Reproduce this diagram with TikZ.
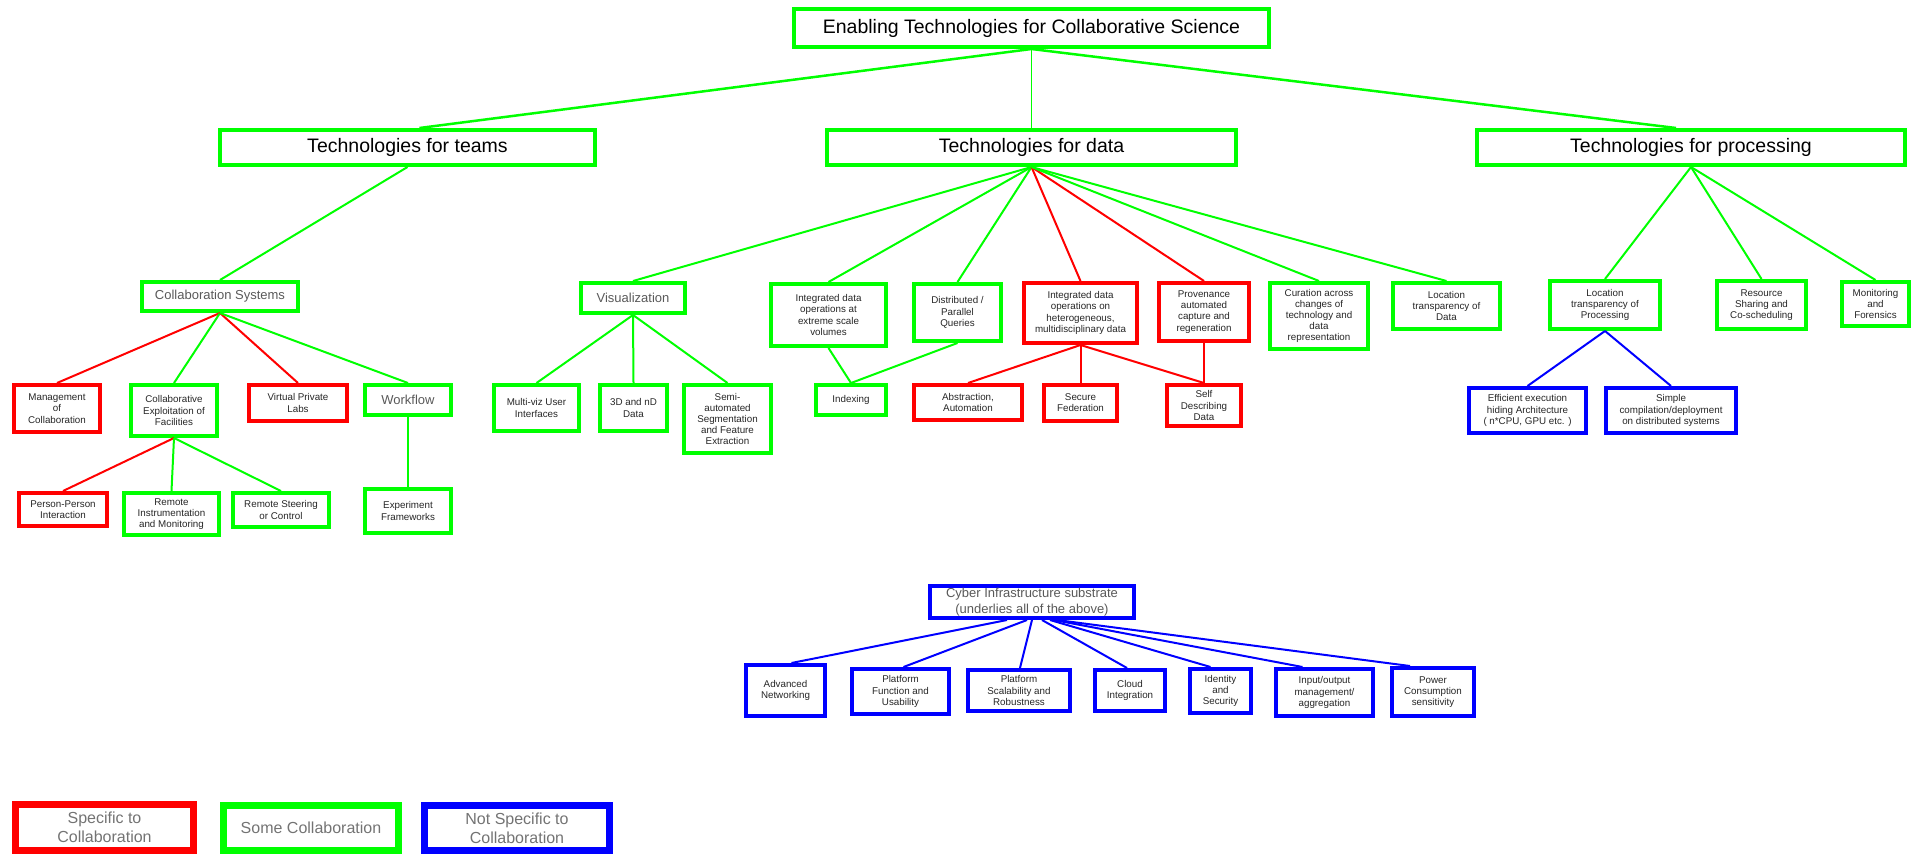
\documentclass[tikz,border=0pt]{standalone}
\usepackage{fontspec}
\setmainfont{Liberation Sans}
\begin{document}
\begin{tikzpicture}[x=1pt, y=-1pt,
    tbox/.style={draw=#1, line width=4pt, align=center, inner sep=1pt, text=black!85,
        font=\fontsize{9.8}{11.2}\selectfont},
    sz/.style 2 args={minimum width=#1, minimum height=#2},
    toph/.style={font=\fontsize{19.5}{22}\selectfont, text=black},
    subh/.style={font=\fontsize{13}{15.5}\selectfont, text=black!65},
    lk/.style={draw=#1, line width=2pt},
    legbox/.style={draw=#1, line width=7pt, align=center, inner sep=1pt, text=black!55,
        font=\fontsize{16}{19}\selectfont}]
    \useasboundingbox (0,0) rectangle (1911,854);

    % Top of the tree
    \node[tbox=green, toph, sz={475}{38}] (ets) at (1031.5,28) {Enabling Technologies for Collaborative Science};
    \node[tbox=green, toph, sz={375}{35}] (teams) at (407.5,147.5) {Technologies for teams};
    \node[tbox=green, toph, sz={409}{35}] (tdata) at (1031.5,147.5) {Technologies for data};
    \node[tbox=green, toph, sz={428}{35}] (tproc) at (1691,147.5) {Technologies for processing};
    \draw[lk=green, line width=2.5pt] (ets.south) -- ([xshift=12pt]teams.north);
    \draw[lk=green, line width=1pt] (ets.south) -- (tdata.north);
    \draw[lk=green, line width=2.5pt] (ets.south) -- ([xshift=-15pt]tproc.north);

    % Technologies for teams
    \node[tbox=green, subh, sz={156}{29}] (colsys) at (220,296.5) {Collaboration Systems};
    \node[tbox=red, sz={86}{47}] (mgmt) at (57,408.5) {Management\\of\\Collaboration};
    \node[tbox=green, sz={86}{51}] (exploit) at (174,410.5) {Collaborative\\Exploitation of\\Facilities};
    \node[tbox=red, sz={98}{36}] (vpl) at (298,403) {Virtual Private\\Labs};
    \node[tbox=green, subh, sz={86}{30}] (wflow) at (408,400) {Workflow};
    \node[tbox=red, sz={88}{33}] (person) at (63,509.5) {Person-Person\\Interaction};
    \node[tbox=green, sz={95}{42}] (rinstr) at (171.5,514) {Remote\\Instrumentation\\and Monitoring};
    \node[tbox=green, sz={96}{34}] (rsteer) at (281,510) {Remote Steering\\or Control};
    \node[tbox=green, sz={86}{44}] (expfw) at (408,511) {Experiment\\Frameworks};
    \draw[lk=green] (teams.south) -- (colsys.north);
    \foreach \c/\n in {red/mgmt, green/exploit, red/vpl, green/wflow}
        \draw[lk=\c] (colsys.south) -- (\n.north);
    \foreach \c/\n in {red/person, green/rinstr, green/rsteer}
        \draw[lk=\c] (exploit.south) -- (\n.north);
    \draw[lk=green] (wflow.south) -- (expfw.north);

    % Technologies for data
    \node[tbox=green, subh, sz={104}{30}] (vis) at (633,298) {Visualization};
    \node[tbox=green, sz={85}{46}] (mviz) at (536.5,408) {Multi-viz User\\Interfaces};
    \node[tbox=green, sz={67}{46}] (threed) at (633.5,408) {3D and nD\\Data};
    \node[tbox=green, sz={87}{68}] (segm) at (727.5,419) {Semi-\\automated\\Segmentation\\and Feature\\Extraction};
    \node[tbox=green, sz={115}{62}] (extreme) at (828.5,315) {Integrated data\\operations at\\extreme scale\\volumes};
    \node[tbox=green, sz={87}{57}] (distrib) at (957.5,312.5) {Distributed /\\Parallel\\Queries};
    \node[tbox=green, sz={70}{30}] (index) at (851,400) {Indexing};
    \node[tbox=red, sz={113}{60}] (hetero) at (1080.5,313) {Integrated data\\operations on\\heterogeneous,\\multidisciplinary data};
    \node[tbox=red, sz={90}{58}] (prov) at (1204,312) {Provenance\\automated\\capture and\\regeneration};
    \node[tbox=green, sz={98}{66}] (curation) at (1319,316) {Curation across\\changes of\\technology and\\data\\representation};
    \node[tbox=green, sz={107}{46}] (locdata) at (1446.5,306) {Location\\transparency of\\Data};
    \node[tbox=red, sz={108}{35}] (abstr) at (968,402.5) {Abstraction,\\Automation};
    \node[tbox=red, sz={73}{36}] (secfed) at (1080.5,403) {Secure\\Federation};
    \node[tbox=red, sz={74}{41}] (selfdesc) at (1204,405.5) {Self\\Describing\\Data};
    \foreach \c/\n in {green/vis, green/extreme, green/distrib, red/hetero, red/prov, green/curation, green/locdata}
        \draw[lk=\c] (tdata.south) -- (\n.north);
    \foreach \n in {mviz, threed, segm}
        \draw[lk=green] (vis.south) -- (\n.north);
    \draw[lk=green] (extreme.south) -- (index.north);
    \draw[lk=green] (distrib.south) -- (index.north);
    \foreach \n in {abstr, secfed, selfdesc}
        \draw[lk=red] (hetero.south) -- (\n.north);
    \draw[lk=red] (prov.south) -- (selfdesc.north);

    % Technologies for processing
    \node[tbox=green, sz={110}{48}] (locproc) at (1605,305) {Location\\transparency of\\Processing};
    \node[tbox=green, sz={89}{48}] (rshare) at (1761.5,305) {Resource\\Sharing and\\Co-scheduling};
    \node[tbox=green, sz={67}{44}] (monit) at (1875.5,304) {Monitoring\\and\\Forensics};
    \node[tbox=blue, sz={117}{45}] (effexec) at (1527.5,410.5) {Efficient execution\\hiding Architecture\\( n*CPU, GPU etc. )};
    \node[tbox=blue, sz={130}{45}] (simple) at (1671,410.5) {Simple\\compilation/deployment\\on distributed systems};
    \foreach \n in {locproc, rshare, monit}
        \draw[lk=green] (tproc.south) -- (\n.north);
    \foreach \n in {effexec, simple}
        \draw[lk=blue] (locproc.south) -- (\n.north);

    % Cyber infrastructure substrate
    \node[tbox=blue, subh, sz={204}{32}] (cyber) at (1032,602) {Cyber Infrastructure substrate\\(underlies all of the above)};
    \node[tbox=blue, sz={79}{51}] (advnet) at (785.5,690.5) {Advanced\\Networking};
    \node[tbox=blue, sz={97}{45}] (platfu) at (900.5,691.5) {Platform\\Function and\\Usability};
    \node[tbox=blue, sz={102}{41}] (platsc) at (1019,690.5) {Platform\\Scalability and\\Robustness};
    \node[tbox=blue, sz={70}{41}] (cloud) at (1130,690.5) {Cloud\\Integration};
    \node[tbox=blue, sz={61}{44}] (ident) at (1220.5,691) {Identity\\and\\Security};
    \node[tbox=blue, sz={97}{47}] (inout) at (1324.5,692.5) {Input/output\\management/\\aggregation};
    \node[tbox=blue, sz={82}{48}] (power) at (1433,692) {Power\\Consumption\\sensitivity};
    \foreach \n/\a/\b in {advnet/-25/6, platfu/-5/3, platsc/0/1, cloud/10/-3, ident/18/-10, inout/22/-22, power/25/-23}
        \draw[lk=blue] ([xshift=\a pt]cyber.south) -- ([xshift=\b pt]\n.north);

    % Legend
    \node[legbox=red, sz={178}{46}] (lgred) at (104.5,827.5) {Specific to\\Collaboration};
    \node[legbox=green, sz={175}{45}] (lggreen) at (311,828) {Some Collaboration};
    \node[legbox=blue, sz={185}{45}] (lgblue) at (517,828) {Not Specific to\\Collaboration};
\end{tikzpicture}
\end{document}
